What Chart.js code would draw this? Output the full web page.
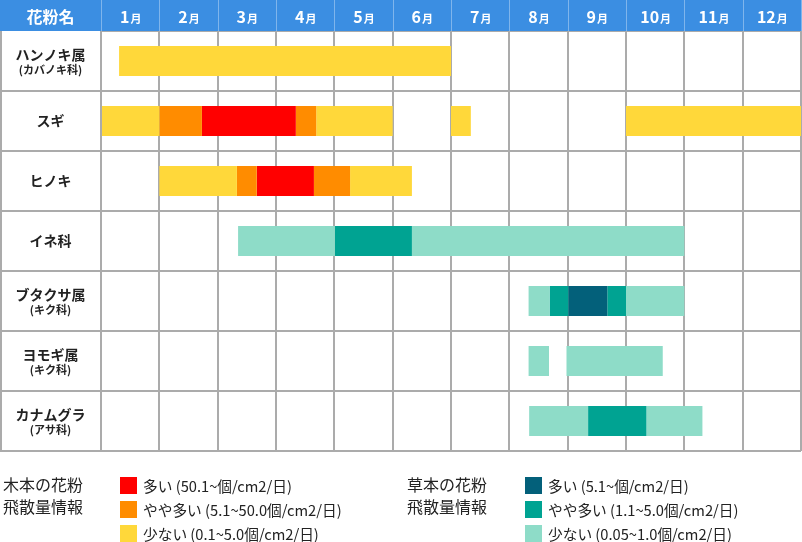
<!DOCTYPE html>
<html lang="ja">
<head>
    <meta charset="UTF-8">
    <title>花粉カレンダー</title>
    <style>
        body { margin: 0; background: #fff; }
        #wrap { position: relative; width: 802px; height: 542px; }
    </style>
</head>
<body>
    <div id="wrap"><canvas id="pollenChart"></canvas></div>
    <script src="https://cdn.jsdelivr.net/npm/chart.js"></script>
    <script>
        // month columns (x value 0..12, each month is one unit)
        const months = ['1月', '2月', '3月', '4月', '5月', '6月', '7月', '8月', '9月', '10月', '11月', '12月'];

        const species = ['ハンノキ属', 'スギ', 'ヒノキ', 'イネ科', 'ブタクサ属', 'ヨモギ属', 'カナムグラ'];
        const families = ['(カバノキ科)', '', '', '', '(キク科)', '(キク科)', '(アサ科)'];
        const kinds = ['tree', 'tree', 'tree', 'grass', 'grass', 'grass', 'grass'];

        // segments: [start, end, level]  level 0 = 少ない, 1 = やや多い, 2 = 多い
        const hannoki = [[0.31, 6.0, 0]];
        const sugi = [[0.0, 1.0, 0], [1.0, 1.73, 1], [1.73, 3.34, 2], [3.34, 3.69, 1], [3.69, 5.0, 0], [6.0, 6.34, 0], [9.0, 12.0, 0]];
        const hinoki = [[1.0, 2.33, 0], [2.33, 2.67, 1], [2.67, 3.65, 2], [3.65, 4.27, 1], [4.27, 5.33, 0]];
        const ine = [[2.35, 4.01, 0], [4.01, 5.33, 1], [5.33, 10.0, 0]];
        const butakusa = [[7.33, 7.69, 0], [7.69, 8.01, 1], [8.01, 8.68, 2], [8.68, 9.0, 1], [9.0, 10.0, 0]];
        const yomogi = [[7.33, 7.68, 0], [7.98, 9.63, 0]];
        const kanamugura = [[7.34, 8.35, 0], [8.35, 9.35, 1], [9.35, 10.31, 0]];

        const rows = [hannoki, sugi, hinoki, ine, butakusa, yomogi, kanamugura];

        const treeColors = ['#ffd83a', '#ff8c00', '#ff0000'];
        const grassColors = ['#8edcc8', '#00a392', '#03607a'];

        const treeLegend = ['多い (50.1~個/cm2/日)', 'やや多い (5.1~50.0個/cm2/日)', '少ない (0.1~5.0個/cm2/日)'];
        const grassLegend = ['多い (5.1~個/cm2/日)', 'やや多い (1.1~5.0個/cm2/日)', '少ない (0.05~1.0個/cm2/日)'];

        const JP = '"Noto Sans CJK JP", "Noto Sans", sans-serif';
        const GRID = '#ababab';

        // one dataset per segment slot, overlapping on the same row
        const maxSegs = Math.max(...rows.map(r => r.length));
        const datasets = [];
        for (let j = 0; j < maxSegs; j++) {
            datasets.push({
                data: rows.map(r => r[j] ? [r[j][0], r[j][1]] : null),
                backgroundColor: rows.map((r, i) => {
                    if (!r[j]) return 'transparent';
                    const pal = kinds[i] === 'tree' ? treeColors : grassColors;
                    return pal[r[j][2]];
                }),
                borderWidth: 0,
                borderSkipped: false,
                grouped: false,
                categoryPercentage: 1.0,
                barPercentage: 0.5
            });
        }

        const tablePlugin = {
            id: 'pollenTable',
            afterDraw(chart) {
                const ctx = chart.ctx;
                const x = chart.scales.x;
                const y = chart.scales.y;
                const area = chart.chartArea;
                const rowH = y.getPixelForValue(1) - y.getPixelForValue(0);
                ctx.save();

                // lines across the name column
                ctx.strokeStyle = GRID;
                ctx.lineWidth = 2;
                ctx.beginPath();
                for (let i = 0; i < species.length; i++) {
                    const py = Math.round(y.getPixelForValue(i) + rowH / 2);
                    ctx.moveTo(0, py);
                    ctx.lineTo(area.left, py);
                }
                ctx.moveTo(1, area.top);
                ctx.lineTo(1, area.bottom);
                ctx.stroke();

                // header band
                ctx.fillStyle = '#3b8ee2';
                ctx.fillRect(0, 0, chart.width, area.top);
                ctx.strokeStyle = 'rgba(255,255,255,0.35)';
                ctx.lineWidth = 1;
                ctx.beginPath();
                for (let m = 0; m <= 12; m++) {
                    const px = Math.round(x.getPixelForValue(m)) + 0.5;
                    ctx.moveTo(px, 0);
                    ctx.lineTo(px, area.top);
                }
                ctx.stroke();

                ctx.fillStyle = '#fff';
                ctx.textBaseline = 'middle';
                ctx.textAlign = 'center';
                ctx.font = 'bold 16px ' + JP;
                ctx.fillText('花粉名', area.left / 2, area.top / 2 + 1);

                months.forEach((label, m) => {
                    const num = label.replace('月', '');
                    const cx = x.getPixelForValue(m + 0.5);
                    ctx.font = 'bold 16px ' + JP;
                    const w1 = ctx.measureText(num).width;
                    ctx.font = 'bold 11px ' + JP;
                    const w2 = ctx.measureText('月').width;
                    const sx = cx - (w1 + w2) / 2;
                    ctx.textAlign = 'left';
                    ctx.font = 'bold 16px ' + JP;
                    ctx.fillText(num, sx, area.top / 2 + 1);
                    ctx.font = 'bold 11px ' + JP;
                    ctx.fillText('月', sx + w1 + 1, area.top / 2 + 3);
                });

                // species names
                ctx.fillStyle = '#222';
                ctx.textAlign = 'center';
                species.forEach((name, i) => {
                    const cy = y.getPixelForValue(i);
                    if (families[i]) {
                        ctx.font = 'bold 14px ' + JP;
                        ctx.fillText(name, area.left / 2, cy - 6);
                        ctx.font = 'bold 11px ' + JP;
                        ctx.fillText(families[i], area.left / 2, cy + 9);
                    } else {
                        ctx.font = 'bold 14px ' + JP;
                        ctx.fillText(name, area.left / 2, cy);
                    }
                });

                // legends
                const drawLegend = (title1, title2, tx, boxX, labels, colors) => {
                    ctx.fillStyle = '#222';
                    ctx.textAlign = 'left';
                    ctx.font = '16px ' + JP;
                    ctx.fillText(title1, tx, 485);
                    ctx.fillText(title2, tx, 507);
                    ctx.font = '14.7px ' + JP;
                    labels.forEach((lab, k) => {
                        const cy = 485 + k * 24;
                        ctx.fillStyle = colors[2 - k];
                        ctx.fillRect(boxX, cy - 8, 17, 17);
                        ctx.fillStyle = '#222';
                        ctx.fillText(lab, boxX + 23, cy + 1);
                    });
                };
                drawLegend('木本の花粉', '飛散量情報', 3, 120, treeLegend, treeColors);
                drawLegend('草本の花粉', '飛散量情報', 407, 525, grassLegend, grassColors);

                ctx.restore();
            }
        };

        new Chart(document.getElementById('pollenChart'), {
            type: 'bar',
            data: { labels: species, datasets: datasets },
            options: {
                indexAxis: 'y',
                responsive: true,
                maintainAspectRatio: false,
                animation: false,
                layout: { padding: { left: 101, top: 31, right: 1, bottom: 91 } },
                plugins: { legend: { display: false }, tooltip: { enabled: false } },
                scales: {
                    x: {
                        type: 'linear',
                        min: 0,
                        max: 12,
                        ticks: { display: false, stepSize: 1 },
                        grid: { color: GRID, lineWidth: 2, drawTicks: false },
                        border: { display: false }
                    },
                    y: {
                        ticks: { display: false },
                        grid: { color: GRID, lineWidth: 2, drawTicks: false, offset: true },
                        border: { display: false }
                    }
                }
            },
            plugins: [tablePlugin]
        });
    </script>
</body>
</html>
